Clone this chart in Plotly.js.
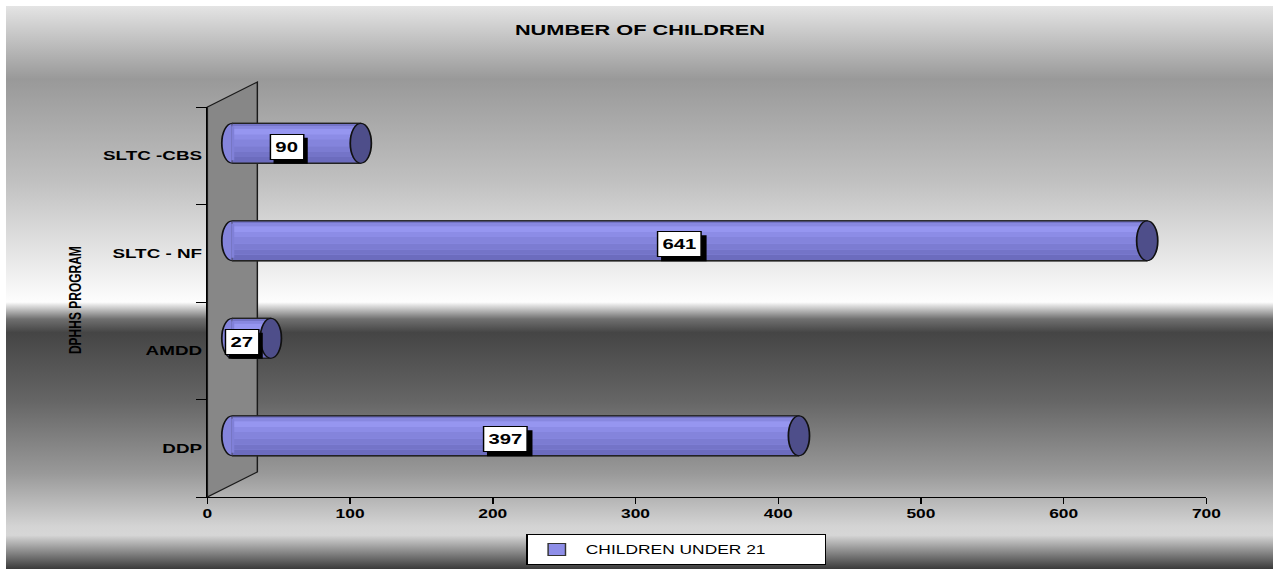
<!DOCTYPE html>
<html>
<head>
<meta charset="utf-8">
<script src="https://cdn.plot.ly/plotly-3.0.1.min.js"></script>
<style>
  html, body { margin: 0; padding: 0; background: #ffffff; overflow: hidden; }
  #bg {
    position: absolute; left: 6px; top: 6px; width: 1267px; height: 563px;
    background: linear-gradient(to bottom,
      #e4e4e4 0%, #999999 13%, #c0c0c0 31%, #e8e8e8 45%, #fdfdfd 52.6%,
      #e0e0e0 53.2%, #707070 55.6%, #454545 58%, #656565 70%, #999999 83%,
      #d4d4d4 92.5%, #d6d6d6 94%, #3a3a3a 100%);
  }
  #chart {
    position: absolute; left: 0; top: 0; width: 884px; height: 569px;
    transform-origin: 0 0; transform: scaleX(1.45);
  }
</style>
</head>
<body>
<div id="bg"></div>
<div id="chart"></div>
<script>
// ---- data ----
const categories = ['DDP', 'AMDD', 'SLTC - NF', 'SLTC -CBS'];
const values = [397, 27, 641, 90];
const seriesName = 'CHILDREN UNDER 21';
const xTickValues = [0, 100, 200, 300, 400, 500, 600, 700];
const chartTitle = 'NUMBER OF CHILDREN';
const yTitle = 'DPHHS PROGRAM';

// ---- styling helpers ----
const FONT = 'Liberation Sans, Arial, sans-serif';
const half = 0.205;          // half bar thickness (category units)
const capRx = 7.4;           // cap half-width in x units
const depthX = 17.52;        // 3D depth shift (x units)
const depthY = 0.128;        // 3D depth shift (category units)

const traces = [];
// invisible trace to set up category axis on visible axes
traces.push({
  type: 'scatter', mode: 'markers', x: values, y: categories,
  marker: {opacity: 0}, showlegend: false, hoverinfo: 'skip', xaxis: 'x', yaxis: 'y'
});
// main cylinder body
traces.push({
  type: 'bar', orientation: 'h', name: seriesName, x: values, y: categories,
  xaxis: 'x2', yaxis: 'y2', width: half * 2, offset: -half,
  marker: {color: '#8e8ee8', line: {width: 1, color: '#333'}}, hoverinfo: 'x+y'
});
// shading bands
const bands = [
  {o: -0.2, w: 0.06, c: '#6c6cbe'},
  {o: -0.14, w: 0.05, c: '#7474c8'},
  {o: -0.09, w: 0.06, c: '#7c7cd2'},
  {o: -0.03, w: 0.07, c: '#8484dc'},
  {o: 0.04, w: 0.05, c: '#8c8ce6'},
  {o: 0.09, w: 0.06, c: '#9696f0'},
  {o: 0.15, w: 0.035, c: '#8888e0'},
  {o: 0.185, w: 0.015, c: '#7474c6'}
];
bands.forEach(b => traces.push({
  type: 'bar', orientation: 'h', x: values, y: categories, xaxis: 'x2', yaxis: 'y2',
  width: b.w, offset: b.o, marker: {color: b.c, line: {width: 0}},
  showlegend: false, hoverinfo: 'skip'
}));

const shapes = [];
// back wall
const wx = 0.05005, wy = 25 / 390;
shapes.push({
  type: 'path', xref: 'paper', yref: 'paper', layer: 'below',
  path: `M 0,0 L ${wx},${wy} L ${wx},${1 + wy} L 0,1 Z`,
  fillcolor: '#878787', line: {color: '#1a1a1a', width: 1}
});
values.forEach((v, i) => {
  // left cap (behind body)
  shapes.push({type: 'circle', xref: 'x2', yref: 'y2', layer: 'below',
    x0: -capRx, x1: capRx, y0: i - half, y1: i + half,
    fillcolor: '#8484dc', line: {color: '#111', width: 1.2}});
  // cover the body's left outline
  shapes.push({type: 'line', xref: 'x2', yref: 'y2', layer: 'above',
    x0: 0.3, x1: 0.3, y0: i - half + 0.03, y1: i + half - 0.03, line: {color: '#8080d8', width: 2}});
  // top & bottom outline
  shapes.push({type: 'line', xref: 'x2', yref: 'y2', layer: 'above',
    x0: 0, x1: v, y0: i + half, y1: i + half, line: {color: '#222', width: 1.3}});
  shapes.push({type: 'line', xref: 'x2', yref: 'y2', layer: 'above',
    x0: 0, x1: v, y0: i - half, y1: i - half, line: {color: '#222', width: 1.3}});
  // right cap
  shapes.push({type: 'circle', xref: 'x2', yref: 'y2', layer: 'above',
    x0: v - capRx, x1: v + capRx, y0: i - half, y1: i + half,
    fillcolor: '#4e4e8a', line: {color: '#111', width: 1.2}});
});

// data labels: shadow box (shape) + white label (annotation)
const labelDx = -6.9, labelDy = -3.5, boxH = 26;
const annotations = [];
values.forEach((v, i) => {
  const n = String(v).length;
  const textW = n * 7.8;
  const boxW = textW + 8;
  shapes.push({type: 'rect', xref: 'x2', yref: 'y2', layer: 'above',
    xsizemode: 'pixel', ysizemode: 'pixel', xanchor: v / 2, yanchor: i,
    x0: labelDx + 2.8 - boxW / 2, x1: labelDx + 2.8 + boxW / 2,
    y0: labelDy - 4 - boxH / 2, y1: labelDy - 4 + boxH / 2,
    fillcolor: '#000', line: {width: 0}});
  annotations.push({xref: 'x2', yref: 'y2', x: v / 2, y: categories[i], text: String(v),
    xanchor: 'center', yanchor: 'middle', width: textW, height: 18,
    showarrow: false, borderpad: 3, borderwidth: 1, xshift: labelDx, yshift: labelDy,
    bgcolor: '#ffffff', bordercolor: '#000',
    font: {family: FONT, size: 14, weight: 'bold', color: '#000'}});
});
// y-axis title
annotations.push({xref: 'paper', yref: 'paper', x: -0.132, y: 0.505, xanchor: 'center', yanchor: 'middle',
  textangle: -90, text: yTitle, showarrow: false,
  font: {family: FONT, size: 12, weight: 'bold', color: '#000'}});

const layout = {
  width: 884, height: 569,
  margin: {l: 143.4, r: 51.6, t: 107, b: 72, autoexpand: false},
  paper_bgcolor: 'rgba(0,0,0,0)', plot_bgcolor: 'rgba(0,0,0,0)',
  barmode: 'overlay',
  title: {text: chartTitle, x: 0.4992, xref: 'container', y: 1 - 30 / 569, yref: 'container',
    xanchor: 'center', yanchor: 'middle', font: {family: FONT, size: 15, weight: 'bold', color: '#000'}},
  xaxis: {range: [0, 700], tickvals: xTickValues, showgrid: false, zeroline: false,
    showline: true, linecolor: '#000', linewidth: 1, ticks: 'outside', ticklen: 6,
    tickcolor: '#000', tickfont: {family: FONT, size: 12, weight: 'bold', color: '#000'},
    fixedrange: true},
  yaxis: {type: 'category', categoryorder: 'array', categoryarray: categories,
    range: [-0.5, 3.5], tickson: 'boundaries', ticks: 'outside', ticklen: 7, tickcolor: '#000',
    showline: true, linecolor: '#000', linewidth: 1, showgrid: false, zeroline: false,
    tickfont: {family: FONT, size: 13, weight: 'bold', color: '#000'}, fixedrange: true},
  xaxis2: {overlaying: 'x', anchor: 'y2', range: [-depthX, 700 - depthX], visible: false, fixedrange: true},
  yaxis2: {overlaying: 'y', anchor: 'x2', type: 'category', categoryorder: 'array',
    categoryarray: categories, range: [-0.5 - depthY, 3.5 - depthY], visible: false, fixedrange: true},
  shapes: shapes,
  annotations: annotations,
  showlegend: true,
  legend: {orientation: 'h', x: 0.3193, xanchor: 'left', y: -0.095, yanchor: 'top',
    bgcolor: '#ffffff', bordercolor: '#000', borderwidth: 1, entrywidth: 160,
    font: {family: FONT, size: 12, color: '#000'}}
};

Plotly.newPlot('chart', traces, layout, {displayModeBar: false});
</script>
</body>
</html>
